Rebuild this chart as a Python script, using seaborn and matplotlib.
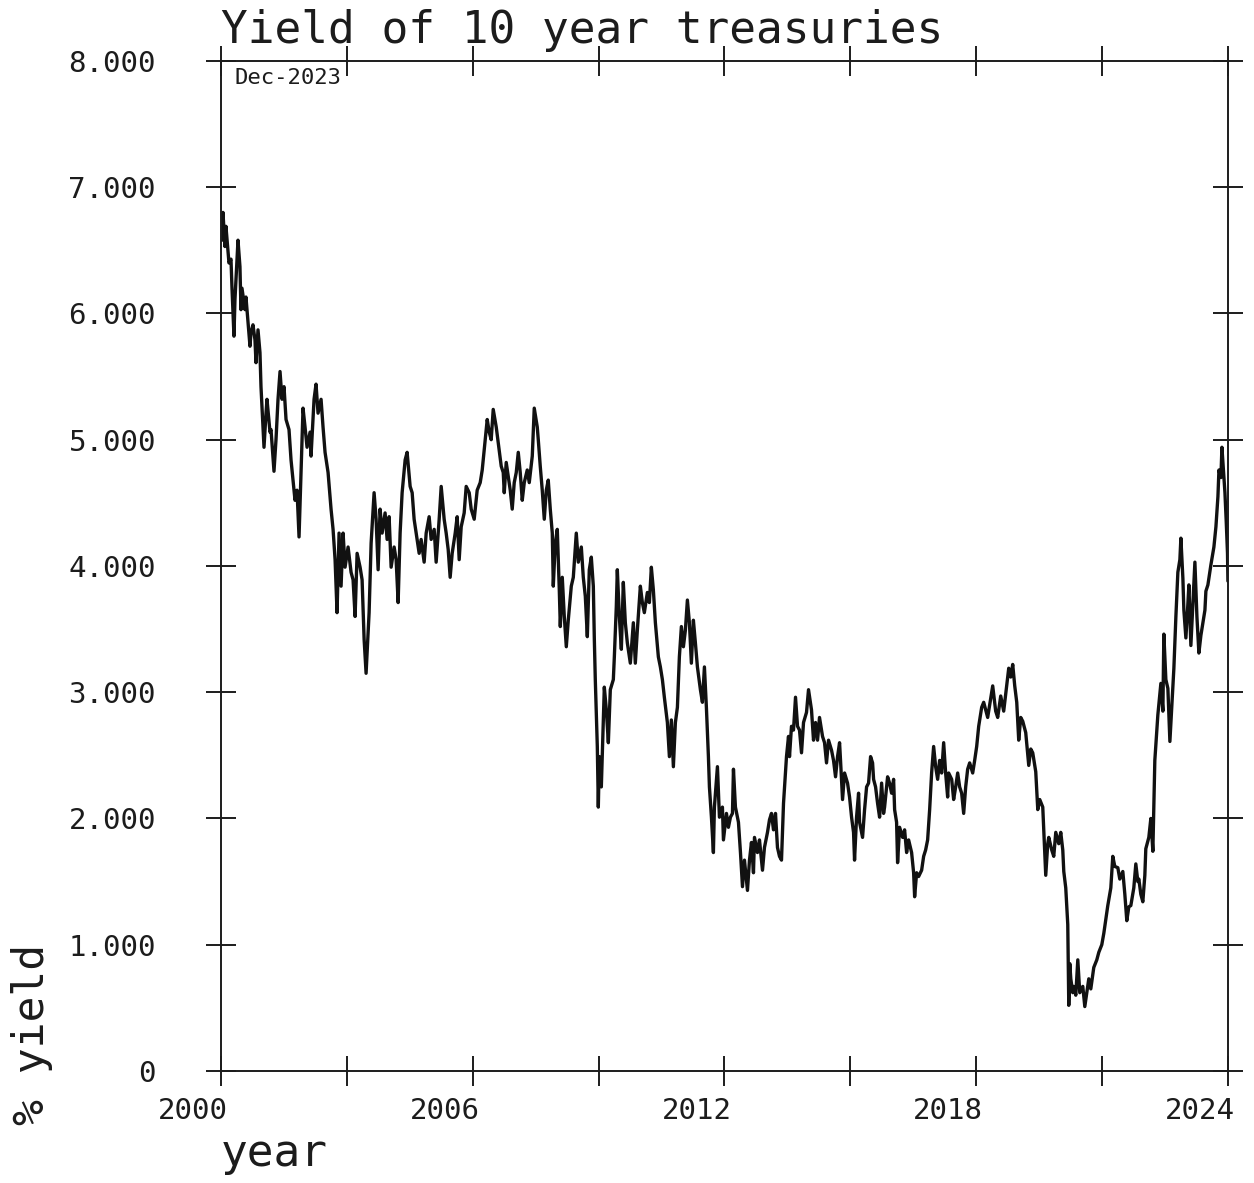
import pandas as pd
import seaborn as sns
import matplotlib.pyplot as plt
from matplotlib import transforms

# Daily-ish 10 year treasury yield (%), decimal year vs. yield
year = [
    2000.024, 2000.048, 2000.095, 2000.119, 2000.191, 2000.239, 2000.262, 2000.310, 2000.334, 2000.406,
    2000.453, 2000.477, 2000.501, 2000.573, 2000.596, 2000.692, 2000.716, 2000.763, 2000.811, 2000.835,
    2000.883, 2000.930, 2000.954, 2001.026, 2001.074, 2001.097, 2001.169, 2001.193, 2001.264, 2001.312,
    2001.360, 2001.408, 2001.455, 2001.503, 2001.551, 2001.622, 2001.670, 2001.718, 2001.765, 2001.813,
    2001.861, 2001.909, 2001.956, 2002.004, 2002.052, 2002.124, 2002.147, 2002.219, 2002.266, 2002.314,
    2002.386, 2002.433, 2002.481, 2002.553, 2002.624, 2002.672, 2002.720, 2002.767, 2002.815, 2002.863,
    2002.911, 2002.958, 2003.030, 2003.101, 2003.149, 2003.197, 2003.245, 2003.316, 2003.364, 2003.412,
    2003.459, 2003.531, 2003.579, 2003.650, 2003.698, 2003.746, 2003.793, 2003.841, 2003.912, 2003.960,
    2004.008, 2004.056, 2004.127, 2004.175, 2004.223, 2004.270, 2004.318, 2004.390, 2004.437, 2004.509,
    2004.557, 2004.604, 2004.652, 2004.724, 2004.771, 2004.843, 2004.891, 2004.962, 2005.010, 2005.082,
    2005.129, 2005.201, 2005.249, 2005.320, 2005.368, 2005.416, 2005.463, 2005.511, 2005.583, 2005.630,
    2005.678, 2005.726, 2005.797, 2005.845, 2005.917, 2005.964, 2006.036, 2006.060, 2006.107, 2006.179,
    2006.227, 2006.298, 2006.346, 2006.394, 2006.441, 2006.489, 2006.561, 2006.608, 2006.680, 2006.728,
    2006.752, 2006.799, 2006.847, 2006.895, 2006.942, 2006.990, 2007.038, 2007.086, 2007.133, 2007.181,
    2007.229, 2007.300, 2007.348, 2007.420, 2007.467, 2007.539, 2007.563, 2007.610, 2007.658, 2007.706,
    2007.754, 2007.801, 2007.849, 2007.897, 2007.921, 2007.968, 2008.016, 2008.064, 2008.088, 2008.135,
    2008.183, 2008.231, 2008.278, 2008.350, 2008.398, 2008.469, 2008.517, 2008.589, 2008.636, 2008.684,
    2008.732, 2008.779, 2008.827, 2008.875, 2008.899, 2008.922, 2008.970, 2008.994, 2009.018, 2009.066,
    2009.113, 2009.137, 2009.185, 2009.233, 2009.280, 2009.352, 2009.376, 2009.423, 2009.447, 2009.495,
    2009.543, 2009.590, 2009.638, 2009.686, 2009.757, 2009.829, 2009.876, 2009.924, 2009.996, 2010.044,
    2010.091, 2010.163, 2010.211, 2010.258, 2010.306, 2010.354, 2010.425, 2010.473, 2010.521, 2010.568,
    2010.640, 2010.688, 2010.735, 2010.783, 2010.831, 2010.879, 2010.926, 2010.974, 2011.022, 2011.069,
    2011.117, 2011.165, 2011.212, 2011.260, 2011.308, 2011.356, 2011.427, 2011.475, 2011.523, 2011.570,
    2011.618, 2011.642, 2011.690, 2011.737, 2011.761, 2011.833, 2011.881, 2011.952, 2011.976, 2012.048,
    2012.095, 2012.143, 2012.191, 2012.215, 2012.262, 2012.334, 2012.382, 2012.430, 2012.477, 2012.549,
    2012.597, 2012.644, 2012.692, 2012.716, 2012.787, 2012.835, 2012.907, 2012.954, 2013.026, 2013.074,
    2013.121, 2013.169, 2013.217, 2013.264, 2013.312, 2013.360, 2013.408, 2013.479, 2013.527, 2013.551,
    2013.598, 2013.646, 2013.694, 2013.742, 2013.789, 2013.837, 2013.885, 2013.956, 2014.004, 2014.075,
    2014.123, 2014.171, 2014.219, 2014.266, 2014.338, 2014.386, 2014.433, 2014.481, 2014.553, 2014.600,
    2014.648, 2014.696, 2014.744, 2014.767, 2014.815, 2014.863, 2014.934, 2014.982, 2015.030, 2015.077,
    2015.101, 2015.149, 2015.197, 2015.221, 2015.292, 2015.340, 2015.388, 2015.435, 2015.483, 2015.531,
    2015.555, 2015.602, 2015.650, 2015.698, 2015.746, 2015.793, 2015.817, 2015.889, 2015.936, 2015.984,
    2016.032, 2016.056, 2016.103, 2016.127, 2016.175, 2016.247, 2016.294, 2016.342, 2016.390, 2016.461,
    2016.509, 2016.533, 2016.581, 2016.628, 2016.700, 2016.748, 2016.795, 2016.843, 2016.891, 2016.938,
    2016.986, 2017.034, 2017.082, 2017.129, 2017.177, 2017.225, 2017.272, 2017.320, 2017.344, 2017.416,
    2017.463, 2017.511, 2017.559, 2017.606, 2017.654, 2017.702, 2017.750, 2017.797, 2017.845, 2017.917,
    2017.964, 2018.012, 2018.060, 2018.131, 2018.179, 2018.227, 2018.274, 2018.346, 2018.394, 2018.465,
    2018.513, 2018.585, 2018.656, 2018.728, 2018.776, 2018.823, 2018.871, 2018.919, 2018.967, 2019.014,
    2019.062, 2019.110, 2019.181, 2019.253, 2019.301, 2019.348, 2019.420, 2019.468, 2019.515, 2019.587,
    2019.658, 2019.706, 2019.730, 2019.801, 2019.849, 2019.897, 2019.968, 2020.016, 2020.064, 2020.088,
    2020.135, 2020.183, 2020.207, 2020.231, 2020.255, 2020.302, 2020.326, 2020.374, 2020.422, 2020.469,
    2020.541, 2020.589, 2020.636, 2020.684, 2020.732, 2020.803, 2020.875, 2020.923, 2020.994, 2021.042,
    2021.089, 2021.137, 2021.209, 2021.256, 2021.304, 2021.376, 2021.423, 2021.495, 2021.543, 2021.590,
    2021.638, 2021.686, 2021.757, 2021.805, 2021.853, 2021.877, 2021.924, 2021.972, 2022.020, 2022.043,
    2022.115, 2022.163, 2022.211, 2022.258, 2022.330, 2022.402, 2022.450, 2022.473, 2022.521, 2022.569,
    2022.617, 2022.664, 2022.712, 2022.760, 2022.807, 2022.855, 2022.879, 2022.927, 2022.950, 2022.998,
    2023.046, 2023.070, 2023.117, 2023.165, 2023.213, 2023.261, 2023.308, 2023.356, 2023.404, 2023.452,
    2023.475, 2023.523, 2023.595, 2023.666, 2023.714, 2023.762, 2023.786, 2023.833, 2023.857, 2023.905,
    2023.929, 2023.960, 2023.990, 2024.000,
]

yield_pct = [
    6.58, 6.80, 6.53, 6.69, 6.40, 6.43, 6.21, 5.82, 6.11, 6.58,
    6.37, 6.03, 6.20, 6.03, 6.13, 5.74, 5.85, 5.91, 5.79, 5.61,
    5.87, 5.69, 5.42, 4.94, 5.21, 5.32, 5.06, 5.08, 4.75, 5.00,
    5.32, 5.54, 5.32, 5.42, 5.16, 5.08, 4.84, 4.68, 4.52, 4.60,
    4.23, 4.74, 5.25, 5.10, 4.94, 5.06, 4.87, 5.32, 5.44, 5.21,
    5.32, 5.10, 4.90, 4.74, 4.45, 4.29, 4.05, 3.63, 4.26, 3.84,
    4.26, 3.99, 4.15, 3.95, 3.89, 3.60, 4.10, 3.99, 3.89, 3.42,
    3.15, 3.63, 4.18, 4.58, 4.37, 3.97, 4.45, 4.26, 4.42, 4.21,
    4.39, 3.99, 4.15, 4.05, 3.71, 4.26, 4.58, 4.84, 4.90, 4.63,
    4.58, 4.37, 4.26, 4.10, 4.21, 4.03, 4.26, 4.39, 4.21, 4.29,
    4.03, 4.37, 4.63, 4.37, 4.26, 4.13, 3.91, 4.10, 4.26, 4.39,
    4.05, 4.31, 4.42, 4.63, 4.58, 4.45, 4.37, 4.45, 4.60, 4.66,
    4.76, 5.00, 5.16, 5.06, 5.00, 5.24, 5.10, 4.98, 4.79, 4.74,
    4.58, 4.82, 4.71, 4.60, 4.45, 4.66, 4.74, 4.90, 4.74, 4.52,
    4.66, 4.76, 4.66, 4.87, 5.25, 5.10, 5.00, 4.79, 4.60, 4.37,
    4.60, 4.68, 4.45, 4.26, 3.84, 4.18, 4.29, 3.81, 3.52, 3.91,
    3.60, 3.36, 3.57, 3.84, 3.91, 4.26, 4.03, 4.15, 3.91, 3.76,
    3.44, 3.97, 4.07, 3.84, 3.42, 3.10, 2.57, 2.09, 2.49, 2.25,
    2.76, 3.04, 2.86, 2.60, 3.02, 3.10, 3.28, 3.68, 3.97, 3.60,
    3.34, 3.87, 3.55, 3.39, 3.23, 3.55, 3.23, 3.49, 3.84, 3.71,
    3.63, 3.79, 3.71, 3.99, 3.81, 3.55, 3.28, 3.20, 3.10, 2.96,
    2.76, 2.49, 2.78, 2.41, 2.76, 2.88, 3.28, 3.52, 3.36, 3.49,
    3.73, 3.55, 3.23, 3.57, 3.39, 3.20, 3.02, 2.92, 3.20, 2.88,
    2.49, 2.25, 2.01, 1.73, 2.09, 2.41, 2.01, 2.09, 1.83, 2.04,
    1.93, 2.01, 2.04, 2.39, 2.09, 1.97, 1.73, 1.46, 1.67, 1.43,
    1.67, 1.81, 1.57, 1.85, 1.73, 1.83, 1.59, 1.77, 1.89, 1.99,
    2.04, 1.91, 2.04, 1.77, 1.70, 1.67, 2.12, 2.49, 2.65, 2.49,
    2.73, 2.70, 2.96, 2.73, 2.70, 2.52, 2.76, 2.84, 3.02, 2.86,
    2.62, 2.76, 2.62, 2.80, 2.65, 2.60, 2.44, 2.62, 2.54, 2.46,
    2.33, 2.49, 2.60, 2.46, 2.15, 2.36, 2.28, 2.17, 2.01, 1.89,
    1.67, 2.01, 2.20, 1.97, 1.85, 2.07, 2.25, 2.28, 2.49, 2.44,
    2.31, 2.25, 2.12, 2.01, 2.28, 2.04, 2.09, 2.33, 2.28, 2.20,
    2.31, 2.07, 1.97, 1.65, 1.93, 1.85, 1.91, 1.73, 1.83, 1.73,
    1.57, 1.38, 1.57, 1.54, 1.59, 1.70, 1.75, 1.83, 2.07, 2.36,
    2.57, 2.41, 2.31, 2.46, 2.36, 2.60, 2.36, 2.17, 2.36, 2.31,
    2.15, 2.25, 2.36, 2.25, 2.20, 2.04, 2.25, 2.39, 2.44, 2.36,
    2.46, 2.57, 2.73, 2.88, 2.92, 2.86, 2.80, 2.95, 3.05, 2.85,
    2.80, 2.97, 2.85, 3.05, 3.19, 3.12, 3.22, 3.05, 2.92, 2.62,
    2.80, 2.77, 2.68, 2.42, 2.55, 2.52, 2.37, 2.07, 2.15, 2.09,
    1.55, 1.80, 1.85, 1.75, 1.70, 1.89, 1.80, 1.89, 1.75, 1.58,
    1.45, 1.16, 0.52, 0.85, 0.73, 0.62, 0.67, 0.60, 0.88, 0.62,
    0.67, 0.51, 0.62, 0.73, 0.65, 0.82, 0.88, 0.94, 1.00, 1.09,
    1.20, 1.31, 1.45, 1.70, 1.62, 1.61, 1.52, 1.58, 1.40, 1.19,
    1.30, 1.31, 1.45, 1.64, 1.50, 1.52, 1.40, 1.34, 1.55, 1.76,
    1.85, 2.00, 1.74, 2.46, 2.82, 3.07, 2.85, 3.46, 3.10, 3.03,
    2.61, 2.90, 3.19, 3.60, 3.95, 4.05, 4.22, 3.90, 3.65, 3.43,
    3.70, 3.85, 3.37, 3.70, 4.03, 3.60, 3.31, 3.45, 3.55, 3.65,
    3.80, 3.85, 4.01, 4.15, 4.31, 4.55, 4.76, 4.70, 4.94, 4.70,
    4.58, 4.35, 4.10, 3.88,
]

x_ticks = [2000, 2003, 2006, 2009, 2012, 2015, 2018, 2021, 2024]
x_tick_labels = ["2000", "", "2006", "", "2012", "", "2018", "", "2024"]
y_ticks = [0, 1, 2, 3, 4, 5, 6, 7, 8]
y_tick_labels = ["0", "1.000", "2.000", "3.000", "4.000", "5.000", "6.000", "7.000", "8.000"]

sns.set_theme(style="white")
plt.rcParams["font.family"] = ["DejaVu Sans Mono", "DejaVu Sans"]

ink = "#1c1c1c"
df = pd.DataFrame({"year": year, "yield": yield_pct})

fig = plt.figure(figsize=(12.54, 11.83), dpi=100)
ax = fig.add_axes([0.1762, 0.0947, 0.8030, 0.8538])

sns.lineplot(data=df, x="year", y="yield", ax=ax, color="#111111",
             linewidth=2.4, estimator=None, sort=False)

ax.set_xlim(2000, 2024)
ax.set_ylim(0, 8)

for side in ["left", "right", "top", "bottom"]:
    ax.spines[side].set_visible(True)
    ax.spines[side].set_color(ink)
    ax.spines[side].set_linewidth(1.4)

ax.set_xticks(x_ticks)
ax.set_xticklabels(x_tick_labels)
ax.set_yticks(y_ticks)
ax.set_yticklabels(y_tick_labels)

ax.tick_params(axis="both", which="major", direction="inout", length=21.6, width=1.4,
               color=ink, labelcolor=ink, bottom=True, top=True, left=True, right=True,
               labeltop=False, labelright=False)
ax.tick_params(axis="x", labelsize=21, pad=8)
ax.tick_params(axis="y", labelsize=21, pad=36)

# year labels sit just left of their tick
shift = transforms.ScaledTranslation(7 / 100, 0, fig.dpi_scale_trans)
for lab in ax.get_xticklabels():
    lab.set_horizontalalignment("right")
    lab.set_transform(lab.get_transform() + shift)

ax.set_title("Yield of 10 year treasuries", loc="left", y=1.0, pad=13,
             fontsize=32, color=ink)
ax.set_xlabel("year", loc="left", fontsize=32, color=ink)
ax.xaxis.set_label_coords(0.0, -0.060)
ax.set_ylabel("% yield", loc="bottom", fontsize=31, color=ink)
ax.yaxis.set_label_coords(-0.167, -0.053)

ax.text(0.013, 0.993, "Dec-2023", transform=ax.transAxes, ha="left", va="top",
        fontsize=16, color=ink)

fig.savefig("out.png", dpi=100, facecolor="white")
